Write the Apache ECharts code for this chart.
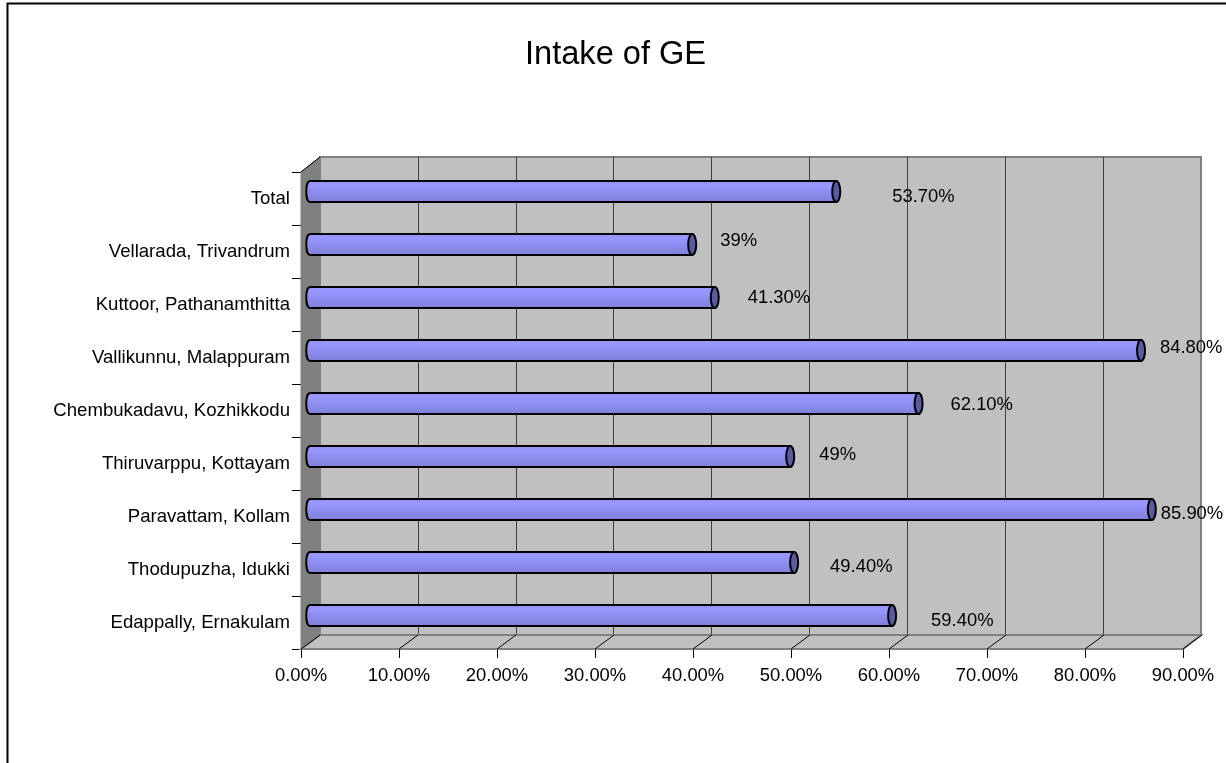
<!DOCTYPE html>
<html><head><meta charset="utf-8">
<style>html,body{margin:0;padding:0;background:#fff}#c{width:1226px;height:763px}</style>
<script src="https://cdn.jsdelivr.net/npm/echarts@6/dist/echarts.min.js"></script>
</head><body><div id="c"></div>
<script>
const categories = ['Edappally, Ernakulam','Thodupuzha, Idukki','Paravattam, Kollam','Thiruvarppu, Kottayam','Chembukadavu, Kozhikkodu','Vallikunnu, Malappuram','Kuttoor, Pathanamthitta','Vellarada, Trivandrum','Total'];
const values = [59.4,49.4,85.9,49,62.1,84.8,41.3,39,53.7];
const valueLabels = ['59.40%','49.40%','85.90%','49%','62.10%','84.80%','41.30%','39%','53.70%'];
const xTicks = [0,10,20,30,40,50,60,70,80,90];

// hand placement of the data labels in the reference: [dx, dy] from the bar end
const labelNudge = [[35,5],[32,4],[5,4],[25,-2],[28,1],[15,-3],[29,0],[24,-4],[52,5]];

const font = 'Liberation Sans, Arial, sans-serif';
const FX=301, BX=320, WIDTH=882, FTOP=172, BTOP=157, H=477, DX=19, DY=-14;

const bodyFill = {type:'linear',x:0,y:0,x2:0,y2:1,colorStops:[
  {offset:0,color:'#9090ff'},{offset:0.2,color:'#9898ff'},{offset:0.5,color:'#8e8ef2'},{offset:0.75,color:'#8686e4'},{offset:1,color:'#7e7ed6'}]};

const chart = echarts.init(document.getElementById('c'),null,{renderer:'canvas'});
chart.setOption({
  animation:false,
  backgroundColor:'#fff',
  title:{text:'Intake of GE',left:520,top:34,textStyle:{fontFamily:font,fontSize:32.6,fontWeight:'normal',color:'#000'}},
  grid:[
    {left:BX,top:BTOP,width:WIDTH-1,height:H+1,show:true,backgroundColor:'#c0c0c0',borderColor:'#808080',borderWidth:2,z:0},
    {left:FX,top:FTOP,width:WIDTH,height:H,z:3},
    {left:310,top:165,width:WIDTH,height:H,z:5}
  ],
  graphic:[
    {type:'polygon',z:1,shape:{points:[[FX,FTOP],[BX,BTOP],[BX,BTOP+H+1],[FX,FTOP+H]]},style:{fill:'#808080',stroke:'#808080'}},
    {type:'polygon',z:1,shape:{points:[[FX,FTOP+H],[BX,BTOP+H+1],[BX+WIDTH-1,BTOP+H+1],[FX+WIDTH,FTOP+H]]},style:{fill:'#c0c0c0',stroke:'#808080',lineWidth:2}},
    {type:'line',z:2,shape:{x1:FX,y1:FTOP,x2:BX,y2:BTOP},style:{stroke:'#000',lineWidth:1}},
    {type:'polyline',z:2,shape:{points:[[7.5,763],[7.5,3.5],[1226,3.5]]},style:{stroke:'#000',lineWidth:2,fill:null}}
  ],
  xAxis:[
    {gridIndex:0,type:'value',min:0,max:90,interval:10,axisLine:{show:false},axisTick:{show:false},axisLabel:{show:false},
     splitLine:{show:true,showMinLine:false,showMaxLine:false,lineStyle:{color:'#404040',width:1}}},
    {gridIndex:1,type:'value',min:0,max:90,interval:10,position:'bottom',
     axisLine:{show:true,onZero:false,lineStyle:{color:'#000',width:1}},
     axisTick:{show:true,length:9,lineStyle:{color:'#000'}},
     axisLabel:{show:true,margin:18,fontFamily:font,fontSize:18.4,color:'#000',formatter:v=>v.toFixed(2)+'%'},
     splitLine:{show:false}},
    {gridIndex:2,type:'value',min:0,max:90,interval:10,show:false}
  ],
  yAxis:[
    {gridIndex:0,type:'category',data:categories,show:false},
    {gridIndex:1,type:'category',data:categories,position:'left',
     axisLine:{show:true,lineStyle:{color:'#000',width:1}},
     axisTick:{show:true,length:9,alignWithLabel:false,lineStyle:{color:'#000'}},
     axisLabel:{show:true,margin:11,interval:0,fontFamily:font,fontSize:18.6,color:'#000',
       formatter:v=>v}},
    {gridIndex:2,type:'category',data:categories,show:false}
  ],
  series:[
    {type:'custom',name:'floor ticks',xAxisIndex:1,yAxisIndex:1,coordinateSystem:'cartesian2d',z:2,silent:true,
     data:xTicks.map(v=>[v,0]),
     renderItem(p,api){
       const c=api.coord([api.value(0),0]);
       const y=FTOP+H;
       return {type:'line',shape:{x1:c[0],y1:y,x2:c[0]+DX,y2:y+DY},style:{stroke:'#000',lineWidth:1}};
     }},
    {type:'custom',name:'Intake of GE',xAxisIndex:2,yAxisIndex:2,z:6,silent:true,
     data:values.map((v,i)=>[v,i]),
     renderItem(p,api){
       const end=api.coord([api.value(0),api.value(1)]);
       const start=api.coord([0,api.value(1)]);
       const h=21, rx=4, x0=start[0], x1=end[0], top=end[1]-h/2, bot=end[1]+h/2;
       const path='M'+x1+' '+top+' L'+x0+' '+top+' C'+(x0-5)+' '+top+' '+(x0-5)+' '+(bot)+' '+x0+' '+bot+' L'+x1+' '+bot+' Z';
       return {type:'group',children:[
         {type:'path',shape:{pathData:path,layout:'none'},style:{fill:bodyFill,stroke:'#000',lineWidth:2}},
         {type:'ellipse',shape:{cx:x1,cy:end[1],rx:rx,ry:h/2},style:{fill:'#5a5a9e',stroke:'#000',lineWidth:2}}
       ]};
     }},
    {type:'custom',name:'labels',xAxisIndex:2,yAxisIndex:2,z:7,silent:true,
     data:values.map((v,i)=>[v,i]),
     renderItem(p,api){
       const i=p.dataIndex, e=api.coord([api.value(0),api.value(1)]), n=labelNudge[i];
       return {type:'text',style:{text:valueLabels[i],x:e[0]+4+n[0],y:e[1]+n[1],
         textAlign:'left',textVerticalAlign:'middle',font:'18.4px '+font,fill:'#000'}};
     }}
  ]
});
</script></body></html>
